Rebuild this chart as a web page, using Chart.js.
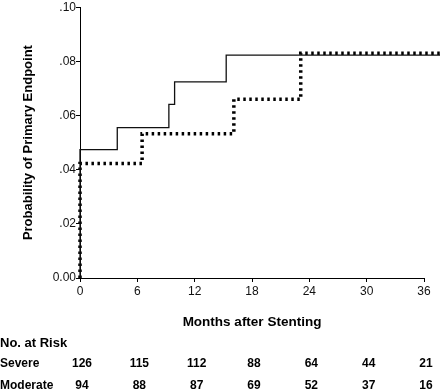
<!DOCTYPE html>
<html>
<head>
<meta charset="utf-8">
<script src="https://cdn.jsdelivr.net/npm/chart.js@4/dist/chart.umd.min.js"></script>
<style>
  html, body { margin: 0; padding: 0; background: #fff; }
  #wrap { width: 440px; height: 392px; }
</style>
</head>
<body>
<div id="wrap"><canvas id="km"></canvas></div>
<script>
// step curves: months of each event and cumulative probability after it
const severeMonths = [0, 0, 3.9, 9.3, 9.9, 15.3, 38];
const severeProb = [0, 0.0474, 0.0555, 0.0641, 0.0724, 0.0823, 0.0823];
const moderateMonths = [0, 0, 6.5, 16.1, 23.1, 38];
const moderateProb = [0, 0.0423, 0.0533, 0.066, 0.083, 0.083];

// number at risk table
const riskMonths = [0, 6, 12, 18, 24, 30, 36];
const riskGroups = ["Severe", "Moderate"];
const severeAtRisk = [126, 115, 112, 88, 64, 44, 21];
const moderateAtRisk = [94, 88, 87, 69, 52, 37, 16];

const FONT = "'Liberation Sans', Arial, sans-serif";

const toPoints = (xs, ys) => xs.map((x, i) => ({ x: x, y: ys[i] }));

const riskTable = {
    id: "riskTable",
    afterDraw(chart) {
        const ctx = chart.ctx;
        const xs = chart.scales.x;
        const area = chart.chartArea;
        ctx.save();
        ctx.fillStyle = "#000";
        ctx.textBaseline = "middle";

        ctx.font = "bold 13.5px " + FONT;
        ctx.textAlign = "center";
        ctx.fillText("Months after Stenting", (area.left + area.right) / 2, 322);

        ctx.font = "bold 13px " + FONT;
        ctx.textAlign = "left";
        ctx.fillText("No. at Risk", 0, 343);

        ctx.font = "bold 12px " + FONT;
        const rows = [severeAtRisk, moderateAtRisk];
        const rowY = [364, 386];
        rows.forEach((row, r) => {
            ctx.textAlign = "left";
            ctx.fillText(riskGroups[r], 0, rowY[r]);
            ctx.textAlign = "center";
            row.forEach((n, i) => {
                ctx.fillText(String(n), xs.getPixelForValue(riskMonths[i]) + 2, rowY[r]);
            });
        });
        ctx.restore();
    }
};

new Chart(document.getElementById("km").getContext("2d"), {
    type: "line",
    data: {
        datasets: [
            {
                label: "Severe",
                data: toPoints(severeMonths, severeProb),
                stepped: true,
                borderColor: "#111",
                borderWidth: 1.3,
                pointRadius: 0,
                fill: false,
                clip: false
            },
            {
                label: "Moderate",
                data: toPoints(moderateMonths, moderateProb),
                stepped: true,
                borderColor: "#000",
                borderWidth: 3.5,
                borderDash: [2.5, 3.5],
                borderCapStyle: "butt",
                pointRadius: 0,
                fill: false,
                clip: false
            }
        ]
    },
    options: {
        responsive: true,
        maintainAspectRatio: false,
        animation: false,
        layout: { padding: { top: 6, right: 16, bottom: 84, left: 0 } },
        plugins: {
            legend: { display: false },
            tooltip: { enabled: false }
        },
        scales: {
            x: {
                type: "linear",
                min: 0,
                max: 36,
                afterFit: s => { s.height = 30; },
                ticks: {
                    stepSize: 6,
                    color: "#111",
                    padding: 2,
                    maxRotation: 0,
                    font: { family: FONT, size: 12 }
                },
                grid: { drawOnChartArea: false, tickLength: 4, color: "#000" },
                border: { display: true, color: "#000", width: 1 }
            },
            y: {
                min: 0,
                max: 0.1,
                afterFit: s => { s.width = 80; },
                ticks: {
                    stepSize: 0.02,
                    color: "#111",
                    padding: 0,
                    font: { family: FONT, size: 12 },
                    callback: v => v === 0 ? "0.00" : v.toFixed(2).replace(/^0/, "")
                },
                grid: { drawOnChartArea: false, tickLength: 4, color: "#000" },
                border: { display: true, color: "#000", width: 1 },
                title: {
                    display: true,
                    text: "Probability of Primary Endpoint",
                    color: "#000",
                    padding: { top: 21, bottom: 0 },
                    font: { family: FONT, size: 13, weight: "bold" }
                }
            }
        }
    },
    plugins: [riskTable]
});
</script>
</body>
</html>
